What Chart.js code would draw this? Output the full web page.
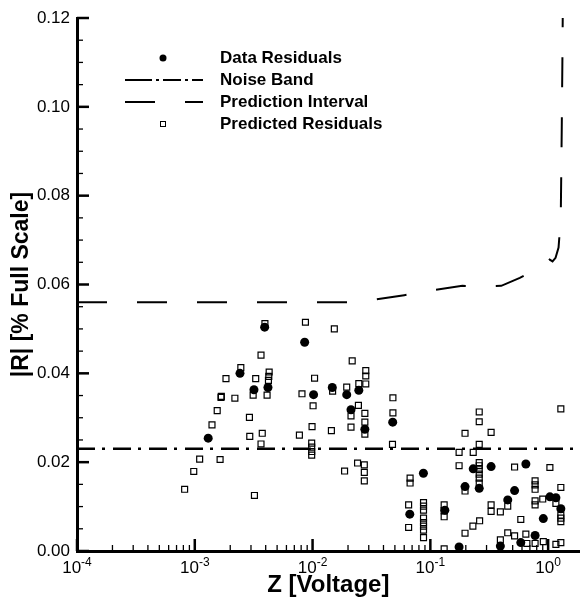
<!DOCTYPE html>
<html>
<head>
<meta charset="utf-8">
<title>Residuals vs Z</title>
<script src="https://cdn.jsdelivr.net/npm/chart.js@4.4.0/dist/chart.umd.min.js"></script>
<style>
  html, body { margin: 0; padding: 0; background: #fff; }
</style>
</head>
<body>
<canvas id="myChart" width="585" height="600"></canvas>
<script>
// Data residuals (filled circles)
const dataZ = [0.0013, 0.00242, 0.00318, 0.00392, 0.00418, 0.00857, 0.0102, 0.0147, 0.0195, 0.0212,
    0.0247, 0.0278, 0.0479, 0.0669, 0.0873, 0.1328, 0.1754, 0.197, 0.2312, 0.260,
    0.328, 0.393, 0.454, 0.519, 0.586, 0.647, 0.775, 0.910, 1.035, 1.164, 1.282];
const dataR = [0.0254, 0.0400, 0.0363, 0.0504, 0.0368, 0.0470, 0.0352, 0.0368, 0.0352, 0.0318,
    0.0362, 0.0274, 0.0290, 0.0083, 0.0175, 0.0092, 0.0009, 0.0145, 0.0185, 0.0141,
    0.0190, 0.0011, 0.0115, 0.0136, 0.0019, 0.0196, 0.0035, 0.0073, 0.0122, 0.0120, 0.0095];

// Predicted residuals (open squares)
const predZ = [0.00082, 0.00098, 0.0011, 0.0014, 0.00155, 0.00164, 0.00167, 0.00168, 0.00184, 0.00219,
    0.00246, 0.00291, 0.00293, 0.00313, 0.00321, 0.00329, 0.00365, 0.00365, 0.00374, 0.00394,
    0.00411, 0.00422, 0.00425, 0.00428, 0.00773, 0.00813, 0.0087, 0.00983, 0.00983, 0.00983,
    0.00983, 0.0099, 0.0101, 0.0104, 0.01445, 0.0148, 0.0153, 0.0187, 0.0195, 0.0212,
    0.0212, 0.0217, 0.0241, 0.0245, 0.0247, 0.0275, 0.0275, 0.0275, 0.0278, 0.0278,
    0.0278, 0.0283, 0.0283, 0.0283, 0.0477, 0.0481, 0.0481, 0.0654, 0.0654, 0.0673,
    0.0673, 0.0875, 0.0875, 0.0875, 0.0875, 0.0875, 0.0875, 0.0875, 0.0875, 0.131,
    0.131, 0.131, 0.131, 0.1754, 0.1754, 0.197, 0.197, 0.197, 0.2297, 0.2312,
    0.260, 0.260, 0.260, 0.260, 0.260, 0.260, 0.260, 0.260, 0.260, 0.262,
    0.328, 0.328, 0.328, 0.393, 0.393, 0.454, 0.454, 0.519, 0.519, 0.586,
    0.647, 0.66, 0.775, 0.775, 0.775, 0.775, 0.775, 0.775, 0.90, 0.910,
    1.035, 1.164, 1.164, 1.282, 1.282, 1.282, 1.282, 1.282, 1.282];
const predR = [0.0139, 0.0179, 0.0207, 0.0284, 0.0316, 0.0206, 0.0346, 0.0348, 0.0388, 0.0344,
    0.0413, 0.0301, 0.0258, 0.0351, 0.0125, 0.0388, 0.0441, 0.0241, 0.0265, 0.0512,
    0.0351, 0.0384, 0.0393, 0.0403, 0.0261, 0.0354, 0.0515, 0.0243, 0.0234, 0.0224,
    0.0216, 0.0280, 0.0327, 0.0389, 0.0271, 0.0360, 0.0500, 0.0180, 0.0369, 0.0304,
    0.0279, 0.0428, 0.0198, 0.0328, 0.0377, 0.0194, 0.0177, 0.0158, 0.0310, 0.0290,
    0.0263, 0.0406, 0.0394, 0.0376, 0.0240, 0.0345, 0.0311, 0.0104, 0.0053, 0.0164,
    0.0153, 0.0109, 0.0101, 0.0092, 0.0074, 0.0064, 0.0056, 0.0047, 0.0030, 0.0104,
    0.0091, 0.0077, 0.0005, 0.0222, 0.0192, 0.0265, 0.0135, 0.0040, 0.0056, 0.0222,
    0.0313, 0.0291, 0.0240, 0.0199, 0.0192, 0.0183, 0.0173, 0.0164, 0.0153, 0.0068,
    0.0267, 0.0104, 0.0089, 0.0088, 0.0025, 0.0101, 0.0041, 0.0189, 0.0034, 0.0071,
    0.0038, 0.0017, 0.0158, 0.0149, 0.0139, 0.0113, 0.0104, 0.0017, 0.0117, 0.0021,
    0.0188, 0.0107, 0.0015, 0.0320, 0.0143, 0.0081, 0.0074, 0.0066, 0.0019];

// Noise band (constant level)
const noiseZ = [1e-4, 1.85];
const noiseR = [0.023, 0.023];

// Prediction interval
const intervalZ = [1e-4, 0.02, 0.034, 0.06, 0.109, 0.187, 0.30, 0.40, 0.575, 0.74,
    0.933, 1.03, 1.09, 1.156, 1.226, 1.28, 1.305, 1.32, 1.335];
const intervalR = [0.0560, 0.0560, 0.0566, 0.0576, 0.0588, 0.0597, 0.0596, 0.0597, 0.0615, 0.0630,
    0.0645, 0.0656, 0.0652, 0.0660, 0.0683, 0.0750, 0.0950, 0.1090, 0.1250];

// Tick labels: x axis is 10 raised to these exponents
const xTickExps = [-4, -3, -2, -1, 0];
const xTickLabels = ['-4', '-3', '-2', '-1', '0'];
const yTickLabels = ['0.00', '0.02', '0.04', '0.06', '0.08', '0.10', '0.12'];

const FONT = '"Liberation Sans", Arial, Helvetica, sans-serif';

function toPoints(xs, ys) {
    return xs.map((x, i) => ({ x: x, y: ys[i] }));
}

// Tick marks drawn inward, like the original plot, plus the 10^n labels
const insideTicks = {
    id: 'insideTicks',
    afterDraw(chart) {
        const ctx = chart.ctx;
        const area = chart.chartArea;
        const xs = chart.scales.x;
        const ys = chart.scales.y;
        ctx.save();
        ctx.strokeStyle = '#000';
        xs.ticks.forEach(t => {
            const exp = Math.floor(Math.log10(t.value) + 1e-9);
            const sig = t.value / Math.pow(10, exp);
            if (Math.abs(sig - Math.round(sig)) > 1e-6) return;
            const major = Math.round(sig) === 1;
            const px = xs.getPixelForValue(t.value);
            ctx.lineWidth = major ? 2.5 : 1.3;
            ctx.beginPath();
            ctx.moveTo(px, area.bottom);
            ctx.lineTo(px, area.bottom - (major ? 12 : 6));
            ctx.stroke();
        });
        ys.ticks.forEach(t => {
            const major = Math.round(t.value * 1000) % 20 === 0;
            const py = ys.getPixelForValue(t.value);
            ctx.lineWidth = major ? 2.5 : 1.3;
            ctx.beginPath();
            ctx.moveTo(area.left, py);
            ctx.lineTo(area.left + (major ? 12 : 6), py);
            ctx.stroke();
        });

        // 10 with superscript exponent under each decade
        ctx.fillStyle = '#000';
        ctx.textBaseline = 'alphabetic';
        ctx.textAlign = 'left';
        xTickExps.forEach((e, i) => {
            const px = xs.getPixelForValue(Math.pow(10, e));
            ctx.font = '17px ' + FONT;
            const wBase = ctx.measureText('10').width;
            ctx.font = '12px ' + FONT;
            const wExp = ctx.measureText(xTickLabels[i]).width;
            const x0 = px - (wBase + wExp) / 2;
            ctx.font = '17px ' + FONT;
            ctx.fillText('10', x0, area.bottom + 22);
            ctx.font = '12px ' + FONT;
            ctx.fillText(xTickLabels[i], x0 + wBase, area.bottom + 15);
        });
        ctx.restore();
    }
};

// Legend box in the upper left of the plot
const plotLegend = {
    id: 'plotLegend',
    afterDraw(chart) {
        const ctx = chart.ctx;
        const ds = chart.data.datasets;
        const symX = 163, textX = 220;
        const rows = [58, 80, 102, 124];
        ctx.save();
        ctx.fillStyle = '#000';
        ctx.strokeStyle = '#000';
        ctx.font = 'bold 17px ' + FONT;
        ctx.textBaseline = 'middle';
        ctx.textAlign = 'left';

        // filled circle
        ctx.beginPath();
        ctx.arc(symX, rows[0], 3.5, 0, Math.PI * 2);
        ctx.fill();
        ctx.fillText(ds[0].label, textX, rows[0]);

        // dash-dot line
        ctx.lineWidth = 2;
        ctx.setLineDash([27, 4, 3, 4, 18, 4, 3, 4, 14]);
        ctx.beginPath();
        ctx.moveTo(125, rows[1]);
        ctx.lineTo(203, rows[1]);
        ctx.stroke();
        ctx.fillText(ds[1].label, textX, rows[1]);

        // long dash line
        ctx.setLineDash([30, 30]);
        ctx.beginPath();
        ctx.moveTo(125, rows[2]);
        ctx.lineTo(203, rows[2]);
        ctx.stroke();
        ctx.fillText(ds[2].label, textX, rows[2]);

        // open square
        ctx.setLineDash([]);
        ctx.lineWidth = 1;
        ctx.strokeRect(symX - 2.5, rows[3] - 2.5, 5, 5);
        ctx.fillText(ds[3].label, textX, rows[3]);
        ctx.restore();
    }
};

document.addEventListener('DOMContentLoaded', () => {
    const ctx = document.getElementById('myChart').getContext('2d');
    new Chart(ctx, {
        type: 'scatter',
        data: {
            datasets: [{
                label: 'Data Residuals',
                data: toPoints(dataZ, dataR),
                pointStyle: 'circle',
                pointRadius: 4.5,
                backgroundColor: '#000',
                borderColor: '#000',
                borderWidth: 0,
                order: 1,
            }, {
                label: 'Noise Band',
                data: toPoints(noiseZ, noiseR),
                showLine: true,
                pointRadius: 0,
                borderColor: '#000',
                borderWidth: 2.5,
                borderDash: [18, 7, 3, 8],
                order: 2,
            }, {
                label: 'Prediction Interval',
                data: toPoints(intervalZ, intervalR),
                showLine: true,
                pointRadius: 0,
                borderColor: '#000',
                borderWidth: 2,
                borderDash: [30, 30],
                tension: 0,
                order: 3,
            }, {
                label: 'Predicted Residuals',
                data: toPoints(predZ, predR),
                pointStyle: 'rect',
                pointRadius: 4.2,
                backgroundColor: 'rgba(0,0,0,0)',
                borderColor: '#000',
                borderWidth: 1.2,
                order: 4,
            }],
        },
        options: {
            responsive: false,
            animation: false,
            devicePixelRatio: 1,
            layout: { padding: { top: 18, right: 1, left: 0, bottom: 0 } },
            plugins: {
                legend: { display: false },
                tooltip: { enabled: false },
            },
            scales: {
                x: {
                    type: 'logarithmic',
                    min: 1e-4,
                    max: 1.85,
                    border: { display: true, color: '#000', width: 3 },
                    grid: { display: false, drawTicks: false },
                    ticks: {
                        autoSkip: false,
                        maxRotation: 0,
                        callback: () => '',
                    },
                    title: {
                        display: true,
                        text: 'Z [Voltage]',
                        color: '#000',
                        font: { family: FONT, size: 24, weight: 'bold' },
                        padding: { top: 0, bottom: 0 },
                    },
                    afterFit: scale => { scale.height = 49; },
                },
                y: {
                    min: 0,
                    max: 0.12,
                    border: { display: true, color: '#000', width: 3 },
                    grid: { display: false, drawTicks: false },
                    ticks: {
                        stepSize: 0.005,
                        autoSkip: false,
                        padding: 7,
                        color: '#000',
                        font: { family: FONT, size: 17 },
                        callback: function (value) {
                            const k = Math.round(value * 1000);
                            return k % 20 === 0 ? yTickLabels[k / 20] : '';
                        },
                    },
                    title: {
                        display: true,
                        text: '|R| [% Full Scale]',
                        color: '#000',
                        font: { family: FONT, size: 23, weight: 'bold' },
                        padding: { top: 8, bottom: 0 },
                    },
                    afterFit: scale => { scale.width = 77; },
                },
            },
        },
        plugins: [insideTicks, plotLegend],
    });
});
</script>
</body>
</html>
